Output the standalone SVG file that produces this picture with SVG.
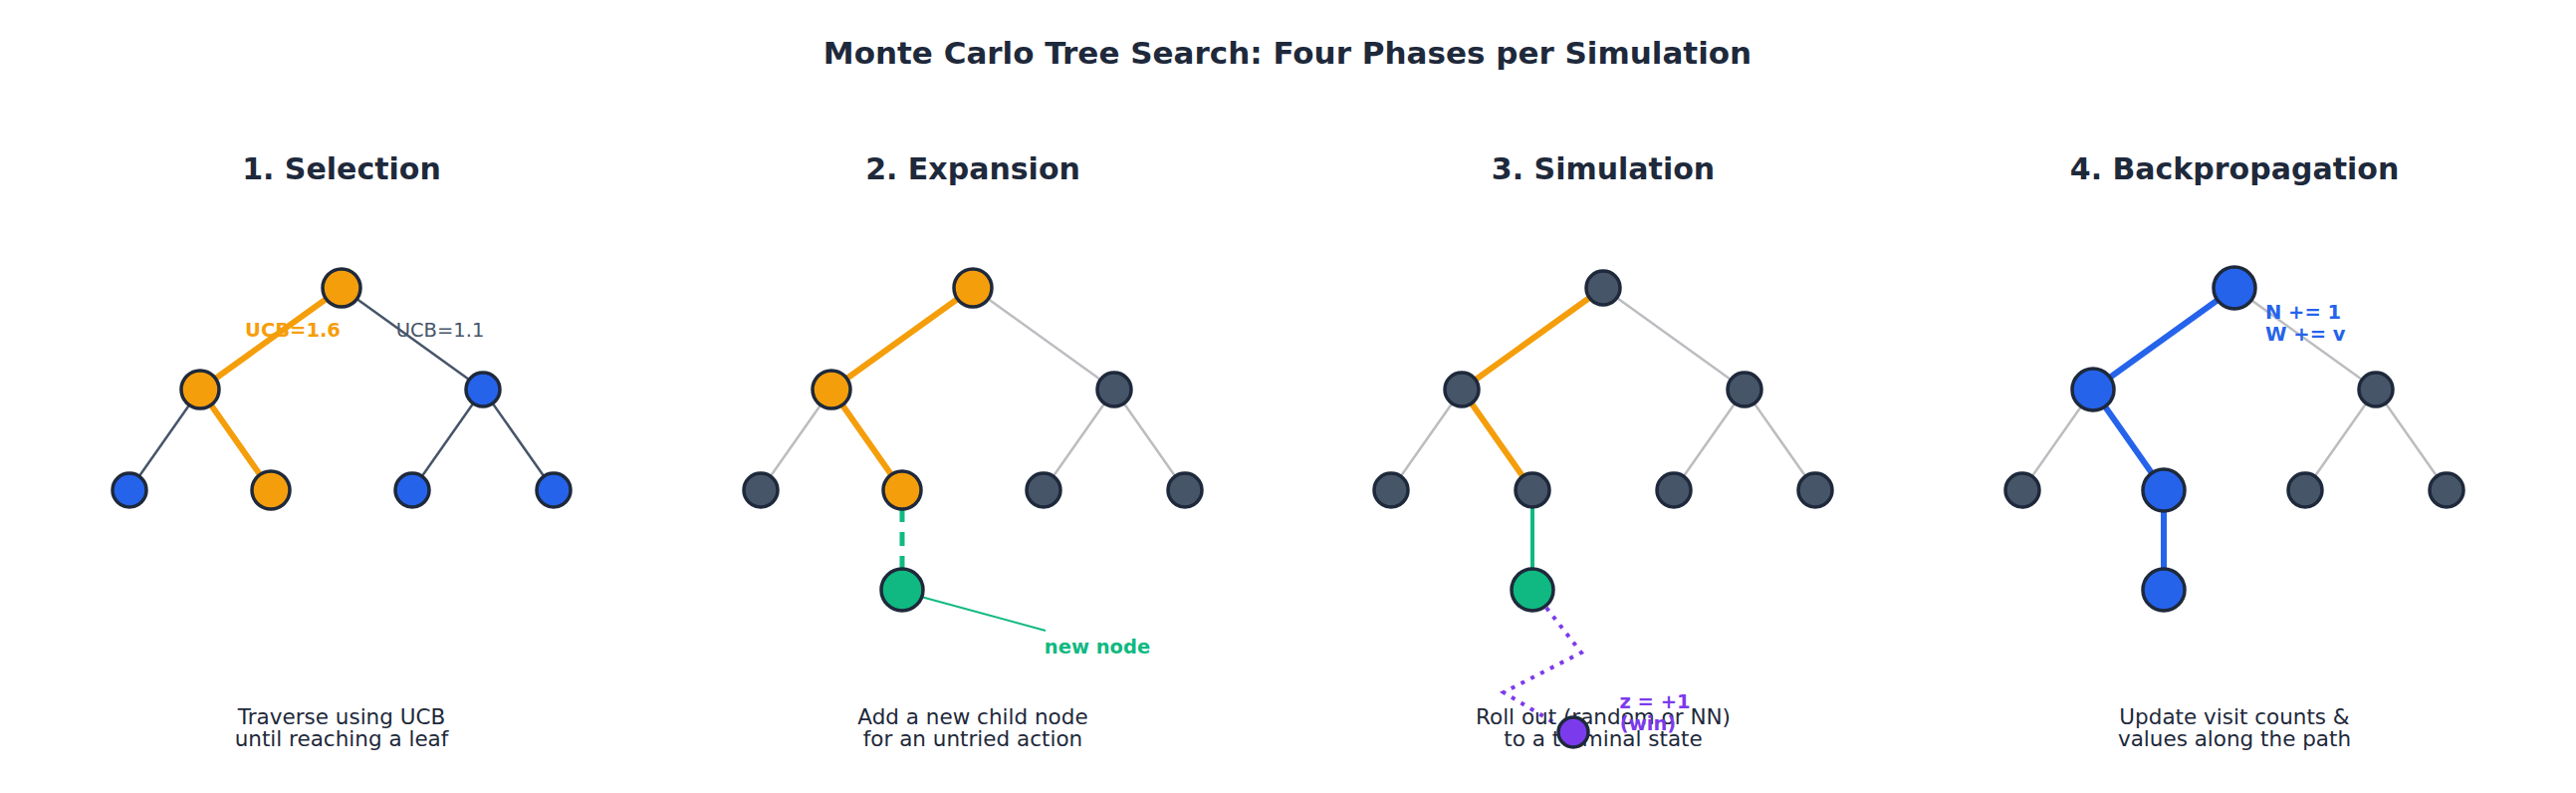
<svg xmlns="http://www.w3.org/2000/svg" width="2587" height="796" viewBox="0 0 2587 796">
<style>
text{font-family:"DejaVu Sans","Liberation Sans",sans-serif;fill:#1e293b}
.t{font-size:31px;font-weight:bold}
.h{font-size:30px;font-weight:bold}
.c{font-size:21.5px;text-anchor:middle}
.n{stroke:#1e293b;stroke-width:3.5}
.o{fill:#f59e0b}.b{fill:#2563eb}.g{fill:#475569}.gr{fill:#10b981}.p{fill:#7c3aed}
.e1{stroke:#475569;stroke-width:2.5}
.e2{stroke:#bbbdc0;stroke-width:2.5}
.eo{stroke:#f59e0b;stroke-width:6}
.eb{stroke:#2563eb;stroke-width:6}
</style>
<rect width="2587" height="796" fill="#fff"/>
<text class="t" x="1293" y="64" text-anchor="middle">Monte Carlo Tree Search: Four Phases per Simulation</text>
<g text-anchor="middle">
<text class="h" x="343" y="180">1. Selection</text>
<text class="h" x="977" y="180">2. Expansion</text>
<text class="h" x="1610" y="180">3. Simulation</text>
<text class="h" x="2244" y="180">4. Backpropagation</text>
</g>
<g id="connectors">
<line class="eo" x1="343" y1="289" x2="201" y2="391"/><line class="e1" x1="343" y1="289" x2="485" y2="391"/>
<line class="e1" x1="201" y1="391" x2="130" y2="492"/><line class="eo" x1="201" y1="391" x2="272" y2="492"/>
<line class="e1" x1="485" y1="391" x2="414" y2="492"/><line class="e1" x1="485" y1="391" x2="556" y2="492"/>

<line class="eo" x1="977" y1="289" x2="835" y2="391"/><line class="e2" x1="977" y1="289" x2="1119" y2="391"/>
<line class="e2" x1="835" y1="391" x2="764" y2="492"/><line class="eo" x1="835" y1="391" x2="906" y2="492"/>
<line class="e2" x1="1119" y1="391" x2="1048" y2="492"/><line class="e2" x1="1119" y1="391" x2="1190" y2="492"/>
<line x1="906" y1="510" x2="906" y2="574" stroke="#10b981" stroke-width="5" stroke-dasharray="14,10"/>
<line x1="925" y1="599" x2="1050" y2="633" stroke="#10b981" stroke-width="2"/>

<line class="eo" x1="1610" y1="289" x2="1468" y2="391" stroke-width="4"/><line class="e2" x1="1610" y1="289" x2="1752" y2="391"/>
<line class="e2" x1="1468" y1="391" x2="1397" y2="492"/><line class="eo" x1="1468" y1="391" x2="1539" y2="492" stroke-width="4"/>
<line class="e2" x1="1752" y1="391" x2="1681" y2="492"/><line class="e2" x1="1752" y1="391" x2="1823" y2="492"/>
<line x1="1539" y1="492" x2="1539" y2="592" stroke="#10b981" stroke-width="4"/>
<polyline points="1553,610 1588,655 1510,695 1560,725" fill="none" stroke="#7c3aed" stroke-width="4" stroke-dasharray="4,7"/>

<line class="eb" x1="2244" y1="289" x2="2102" y2="391"/><line class="e2" x1="2244" y1="289" x2="2386" y2="391"/>
<line class="e2" x1="2102" y1="391" x2="2031" y2="492"/><line class="eb" x1="2102" y1="391" x2="2173" y2="492"/>
<line class="e2" x1="2386" y1="391" x2="2315" y2="492"/><line class="e2" x1="2386" y1="391" x2="2457" y2="492"/>
<line class="eb" x1="2173" y1="492" x2="2173" y2="592"/>
</g>
<g id="p1">
<circle id="p1r" class="n o" cx="343" cy="289" r="19"/>
<circle id="p1a" class="n o" cx="201" cy="391" r="19"/>
<circle id="p1b" class="n b" cx="485" cy="391" r="17"/>
<circle id="p1c" class="n b" cx="130" cy="492" r="17"/>
<circle id="p1d" class="n o" cx="272" cy="492" r="19"/>
<circle id="p1e" class="n b" cx="414" cy="492" r="17"/>
<circle id="p1f" class="n b" cx="556" cy="492" r="17"/>
<text x="294" y="338" font-size="19.5" font-weight="bold" text-anchor="middle" style="fill:#f59e0b">UCB=1.6</text>
<text x="442" y="338" font-size="19.5" text-anchor="middle" style="fill:#475569">UCB=1.1</text>
<text class="c" x="343" y="727">Traverse using UCB</text><text class="c" x="343" y="749">until reaching a leaf</text>
</g>
<g id="p2">
<circle id="p2r" class="n o" cx="977" cy="289" r="19"/>
<circle id="p2a" class="n o" cx="835" cy="391" r="19"/>
<circle id="p2b" class="n g" cx="1119" cy="391" r="17"/>
<circle id="p2c" class="n g" cx="764" cy="492" r="17"/>
<circle id="p2d" class="n o" cx="906" cy="492" r="19"/>
<circle id="p2e" class="n g" cx="1048" cy="492" r="17"/>
<circle id="p2f" class="n g" cx="1190" cy="492" r="17"/>
<circle id="p2new" class="n gr" cx="906" cy="592" r="21"/>
<text x="1102" y="656" font-size="19.5" font-weight="bold" text-anchor="middle" style="fill:#10b981">new node</text>
<text class="c" x="977" y="727">Add a new child node</text><text class="c" x="977" y="749">for an untried action</text>
</g>
<g id="p3">
<circle id="p3r" class="n g" cx="1610" cy="289" r="17"/>
<circle id="p3a" class="n g" cx="1468" cy="391" r="17"/>
<circle id="p3b" class="n g" cx="1752" cy="391" r="17"/>
<circle id="p3c" class="n g" cx="1397" cy="492" r="17"/>
<circle id="p3d" class="n g" cx="1539" cy="492" r="17"/>
<circle id="p3e" class="n g" cx="1681" cy="492" r="17"/>
<circle id="p3f" class="n g" cx="1823" cy="492" r="17"/>
<circle id="p3new" class="n gr" cx="1539" cy="592" r="21"/>
<text class="c" x="1610" y="727">Roll out (random or NN)</text><text class="c" x="1610" y="749">to a terminal state</text>
<circle id="p3term" class="n p" cx="1580" cy="735" r="15"/>
<text x="1662" y="711" font-size="19.5" font-weight="bold" text-anchor="middle" style="fill:#7c3aed">z = +1</text>
<text x="1655" y="733" font-size="19.5" font-weight="bold" text-anchor="middle" style="fill:#7c3aed">(win)</text>
</g>
<g id="p4">
<circle id="p4r" class="n b" cx="2244" cy="289" r="21"/>
<circle id="p4a" class="n b" cx="2102" cy="391" r="21"/>
<circle id="p4b" class="n g" cx="2386" cy="391" r="17"/>
<circle id="p4c" class="n g" cx="2031" cy="492" r="17"/>
<circle id="p4d" class="n b" cx="2173" cy="492" r="21"/>
<circle id="p4e" class="n g" cx="2315" cy="492" r="17"/>
<circle id="p4f" class="n g" cx="2457" cy="492" r="17"/>
<circle id="p4g" class="n b" cx="2173" cy="592" r="21"/>
<text x="2275" y="320" font-size="19.5" font-weight="bold" style="fill:#2563eb">N += 1</text>
<text x="2275" y="342" font-size="19.5" font-weight="bold" style="fill:#2563eb">W += v</text>
<text class="c" x="2244" y="727">Update visit counts &amp;</text><text class="c" x="2244" y="749">values along the path</text>
</g>
</svg>
